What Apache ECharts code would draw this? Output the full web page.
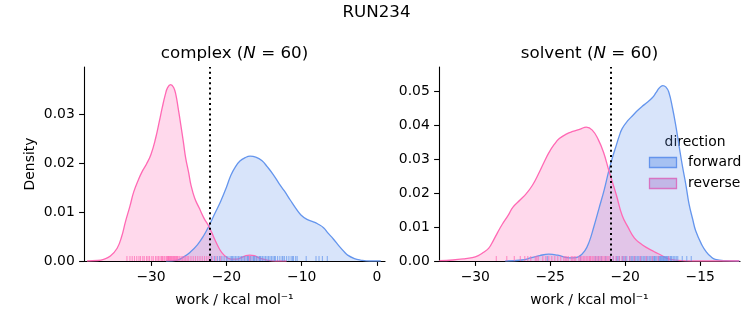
<!DOCTYPE html>
<html>
<head>
<meta charset="utf-8">
<script src="https://cdn.jsdelivr.net/npm/echarts@6/dist/echarts.min.js"></script>
<style>html,body{margin:0;padding:0;background:#fff}#c{width:753px;height:325px}</style>
</head>
<body>
<div id="c"></div>
<script>
// ---- data ----
const panels = ['complex', 'solvent'];
const directions = ['forward', 'reverse'];
const sampleCounts = [60, 60];
const medianLines = [-22.16, -21.0];

// KDE curves [work, density]
const complexForward = [[-28,0],[-26.5,0.0002],[-25.6,0.0009],[-24.8,0.0018],[-23.85,0.0033],[-23.0,0.0052],[-22.3,0.0072],[-21.5,0.0098],[-20.75,0.0122],[-20.0,0.0150],[-19.4,0.0175],[-18.8,0.0192],[-18.2,0.0204],[-17.5,0.0211],[-16.85,0.0214],[-16.1,0.0212],[-15.3,0.0205],[-14.55,0.0192],[-13.8,0.0177],[-13.0,0.0158],[-12.3,0.0143],[-11.5,0.0124],[-10.8,0.0108],[-10.1,0.0094],[-9.3,0.0085],[-8.45,0.0080],[-7.9,0.0076],[-7.1,0.0068],[-6.5,0.0057],[-5.8,0.0045],[-5.0,0.0030],[-4.3,0.0018],[-3.9,0.0012],[-3.0,0.0005],[-2.2,0.0002],[-1.0,0],[0.5,0]];
const complexReverse = [[-38.5,0],[-37.1,0.0001],[-36.2,0.0004],[-35.4,0.0010],[-34.5,0.0026],[-33.9,0.0050],[-33.4,0.0080],[-32.8,0.0112],[-32.3,0.0141],[-31.7,0.0165],[-31.2,0.0182],[-30.6,0.0198],[-30.0,0.0218],[-29.4,0.0250],[-28.9,0.0285],[-28.5,0.0314],[-28.1,0.0340],[-27.8,0.0354],[-27.4,0.0360],[-27.0,0.0354],[-26.7,0.0339],[-26.4,0.0312],[-26.05,0.0278],[-25.7,0.0242],[-25.4,0.0210],[-25.0,0.0180],[-24.7,0.0155],[-24.2,0.0128],[-23.6,0.0108],[-22.96,0.0087],[-22.3,0.0070],[-21.6,0.0046],[-20.97,0.0026],[-20.3,0.0012],[-19.4,0.0004],[-18.6,0.0004],[-18.0,0.0007],[-17.4,0.0011],[-16.9,0.0012],[-16.3,0.0011],[-15.6,0.0006],[-14.6,0.0002],[-13.5,0],[-12,0]];
const solventForward = [[-28,0],[-26.9,0.0003],[-26.3,0.0009],[-25.7,0.0016],[-25.1,0.0020],[-24.5,0.0017],[-23.9,0.0010],[-23.5,0.0009],[-23.1,0.0013],[-22.7,0.0030],[-22.4,0.0057],[-22.1,0.0100],[-21.75,0.0155],[-21.4,0.0210],[-21.1,0.0265],[-20.85,0.0305],[-20.6,0.0340],[-20.4,0.0368],[-20.2,0.0390],[-19.85,0.0412],[-19.5,0.0428],[-19.2,0.0442],[-18.9,0.0454],[-18.55,0.0466],[-18.2,0.0480],[-17.95,0.0495],[-17.75,0.0508],[-17.5,0.0516],[-17.3,0.0512],[-17.1,0.0497],[-16.85,0.0450],[-16.6,0.0390],[-16.4,0.0335],[-16.2,0.0282],[-15.95,0.0222],[-15.75,0.0168],[-15.5,0.0122],[-15.3,0.0088],[-14.9,0.0048],[-14.6,0.0027],[-14.3,0.0013],[-14.0,0.0005],[-13.3,0.0001],[-12.4,0]];
const solventReverse = [[-32.4,0.0001],[-31.5,0.0003],[-30.8,0.0006],[-30.2,0.0010],[-29.8,0.0016],[-29.5,0.0024],[-29.1,0.0038],[-28.8,0.0060],[-28.5,0.0085],[-28.2,0.0108],[-27.8,0.0135],[-27.5,0.0158],[-27.0,0.0180],[-26.6,0.0198],[-26.2,0.0222],[-25.8,0.0255],[-25.4,0.0292],[-25.1,0.0318],[-24.75,0.0342],[-24.4,0.0360],[-23.9,0.0374],[-23.5,0.0381],[-23.0,0.0388],[-22.6,0.0394],[-22.2,0.0385],[-21.8,0.0357],[-21.45,0.0320],[-21.1,0.0267],[-20.6,0.0195],[-20.2,0.0133],[-19.8,0.0098],[-19.4,0.0068],[-19.0,0.0052],[-18.6,0.0040],[-18.1,0.0028],[-17.6,0.0017],[-17.1,0.0006],[-16.5,0.0002],[-15.5,0],[-12.4,0]];

// rug samples (work values)
const complexForwardRug = [-22.0,-21.6,-21.2,-20.9,-20.6,-20.3,-20.0,-19.8,-19.5,-19.3,-19.0,-18.8,-18.6,-18.4,-18.2,-18.0,-17.8,-17.6,-17.4,-17.2,-17.0,-16.8,-16.6,-16.4,-16.2,-16.0,-15.8,-15.6,-15.4,-15.2,-15.0,-14.8,-14.6,-14.4,-14.2,-14.0,-13.8,-13.5,-13.2,-12.9,-12.6,-12.3,-12.0,-11.7,-11.4,-11.1,-10.8,-10.6,-9.4,-8.1,-7.7,-7.25,-6.6,-17.1,-16.3,-15.5,-13.6,-19.2,-12.5,-11.2];
const complexReverseRug = [-33.2,-32.8,-32.5,-32.2,-31.9,-31.6,-31.4,-31.1,-30.9,-30.6,-30.4,-30.2,-29.9,-29.7,-29.4,-29.2,-29.0,-28.8,-28.6,-28.4,-28.2,-28.0,-27.9,-27.8,-27.7,-27.6,-27.5,-27.4,-27.3,-27.2,-27.1,-27.0,-26.9,-26.8,-26.7,-26.6,-26.5,-26.4,-26.2,-26.0,-25.8,-25.6,-25.4,-25.2,-25.0,-24.7,-24.4,-24.1,-23.8,-23.5,-23.2,-22.9,-22.6,-22.3,-21.9,-21.4,-20.8,-28.5,-27.65,-16.9];
const solventForwardRug = [-25.2,-23.0,-22.0,-21.6,-21.3,-21.0,-20.8,-20.6,-20.4,-20.2,-20.0,-19.9,-19.7,-19.5,-19.4,-19.2,-19.0,-18.9,-18.7,-18.6,-18.4,-18.3,-18.1,-18.0,-17.9,-17.8,-17.7,-17.6,-17.5,-17.45,-17.4,-17.3,-17.2,-17.1,-17.0,-16.9,-16.8,-16.7,-16.5,-16.2,-15.9,-15.6,-17.55,-17.65,-17.35,-18.2,-18.5,-18.8,-19.1,-19.6,-20.1,-20.5,-17.75,-17.25,-16.95,-21.8,-18.05,-19.3,-17.15,-16.6];
const solventReverseRug = [-28.6,-27.9,-27.4,-27.0,-26.7,-26.3,-26.0,-25.8,-25.5,-25.3,-25.1,-24.9,-24.7,-24.5,-24.3,-24.1,-23.9,-23.8,-23.6,-23.4,-23.3,-23.1,-23.0,-22.9,-22.7,-22.6,-22.5,-22.4,-22.3,-22.2,-22.1,-22.0,-21.9,-21.8,-21.7,-21.6,-21.5,-21.4,-21.3,-21.2,-21.0,-20.8,-20.6,-20.4,-20.2,-20.0,-19.7,-19.4,-19.0,-18.6,-18.2,-17.8,-17.1,-24.0,-23.5,-22.8,-25.9,-26.5,-21.1,-22.35];

// axis ticks / ranges
const xTicks = [[-30,-20,-10,0],[-30,-25,-20,-15]];
const yTicks = [[0,0.01,0.02,0.03],[0,0.01,0.02,0.03,0.04,0.05]];
const xRanges = [[-38.9,1.06],[-32.42,-12.35]];
const yRanges = [[0,0.0396],[0,0.05706]];

// ---- chart ----
const FONT = 'DejaVu Sans';
const COLORS = {forward:'#6495ed', reverse:'#ff69b4'};
const curves = [[complexForward, complexReverse],[solventForward, solventReverse]];
const rugs = [[complexForwardRug, complexReverseRug],[solventForwardRug, solventReverseRug]];
const minus = s => String(s).replace('-', '\u2212');

const grids = [
  {left:84, top:67, width:301, height:194},
  {left:439, top:67, width:301, height:194}
];
const xAxes = [], yAxes = [], series = [];
for (let p = 0; p < 2; p++) {
  xAxes.push({
    type:'value', gridIndex:p, min:xRanges[p][0], max:xRanges[p][1],
    axisLine:{show:true, onZero:false, lineStyle:{color:'#000', width:1.1}},
    axisTick:{show:true, length:4.9, lineStyle:{color:'#000', width:1.1}, customValues:xTicks[p]},
    axisLabel:{show:true, margin:9.2, color:'#000', fontFamily:FONT, fontSize:13.9,
               customValues:xTicks[p], formatter:v=>minus(v)},
    splitLine:{show:false}
  });
  yAxes.push({
    type:'value', gridIndex:p, min:yRanges[p][0], max:yRanges[p][1], position:'left',
    axisLine:{show:true, onZero:false, lineStyle:{color:'#000', width:1.1}},
    axisTick:{show:true, length:4.9, lineStyle:{color:'#000', width:1.1}, customValues:yTicks[p]},
    axisLabel:{show:true, margin:9.2, color:'#000', fontFamily:FONT, fontSize:13.9,
               customValues:yTicks[p], formatter:v=>v.toFixed(2)},
    splitLine:{show:false}
  });
  directions.forEach((d, k) => {
    const s = {
      name:d, type:'line', xAxisIndex:p, yAxisIndex:p, data:curves[p][k],
      showSymbol:false, smooth:0.45, clip:true,
      lineStyle:{color:COLORS[d], width:1.3},
      areaStyle:{color:COLORS[d], opacity:0.25},
      z:2, silent:true
    };
    if (k === 1) {
      s.markLine = {silent:true, symbol:'none', label:{show:false},
        lineStyle:{color:'#000', type:[2,3.2], width:2}, data:[{xAxis:medianLines[p]}], z:5};
    }
    series.push(s);
  });
  directions.forEach((d, k) => {
    series.push({
      name:d+' rug', type:'scatter', xAxisIndex:p, yAxisIndex:p,
      data:rugs[p][k].map(v=>[v,0]), symbol:'rect', symbolSize:[1.1,5], symbolOffset:[0,-2.5],
      itemStyle:{color:COLORS[d], opacity:0.7}, z:3, silent:true
    });
  });
}

const titleRich = {
  t:{fontFamily:FONT, fontSize:16.7, color:'#000'},
  n:{fontFamily:FONT, fontSize:16.7, color:'#000', fontStyle:'italic'}
};
const graphic = [
  {type:'text', left:'center', top:4, style:{text:'RUN234', font:'16.7px "DejaVu Sans"', fill:'#000'}},
  {type:'text', x:234.5, y:54, style:{text:'{t|'+panels[0]+' (}{n|N}{t| = '+sampleCounts[0]+')}', rich:titleRich, align:'center', verticalAlign:'middle'}},
  {type:'text', x:589.5, y:54, style:{text:'{t|'+panels[1]+' (}{n|N}{t| = '+sampleCounts[1]+')}', rich:titleRich, align:'center', verticalAlign:'middle'}},
  {type:'text', x:234.5, y:300, style:{text:'work / kcal mol\u207B\u00B9', font:'13.9px "DejaVu Sans"', fill:'#000', align:'center', verticalAlign:'middle'}},
  {type:'text', x:589.5, y:300, style:{text:'work / kcal mol\u207B\u00B9', font:'13.9px "DejaVu Sans"', fill:'#000', align:'center', verticalAlign:'middle'}},
  {type:'text', x:30, y:164, rotation:Math.PI/2, style:{text:'Density', font:'13.9px "DejaVu Sans"', fill:'#000', align:'center', verticalAlign:'middle'}},
  // legend
  {type:'text', x:695, y:142, style:{text:'direction', font:'13.9px "DejaVu Sans"', fill:'#000', align:'center', verticalAlign:'middle'}},
  {type:'rect', shape:{x:649.5, y:157.5, width:27, height:10}, style:{fill:'#bcd0f5', stroke:COLORS.forward, lineWidth:1.3}},
  {type:'text', x:688, y:162.5, style:{text:directions[0], font:'13.9px "DejaVu Sans"', fill:'#000', align:'left', verticalAlign:'middle'}},
  {type:'rect', shape:{x:649.5, y:178.5, width:27, height:10}, style:{fill:'#e2c3e6', stroke:COLORS.reverse, lineWidth:1.3}},
  {type:'text', x:688, y:183.5, style:{text:directions[1], font:'13.9px "DejaVu Sans"', fill:'#000', align:'left', verticalAlign:'middle'}}
];

const chart = echarts.init(document.getElementById('c'), null, {renderer:'canvas'});
chart.setOption({
  animation:false, backgroundColor:'#fff',
  grid:grids, xAxis:xAxes, yAxis:yAxes, series:series, graphic:graphic
});
</script>
</body>
</html>
